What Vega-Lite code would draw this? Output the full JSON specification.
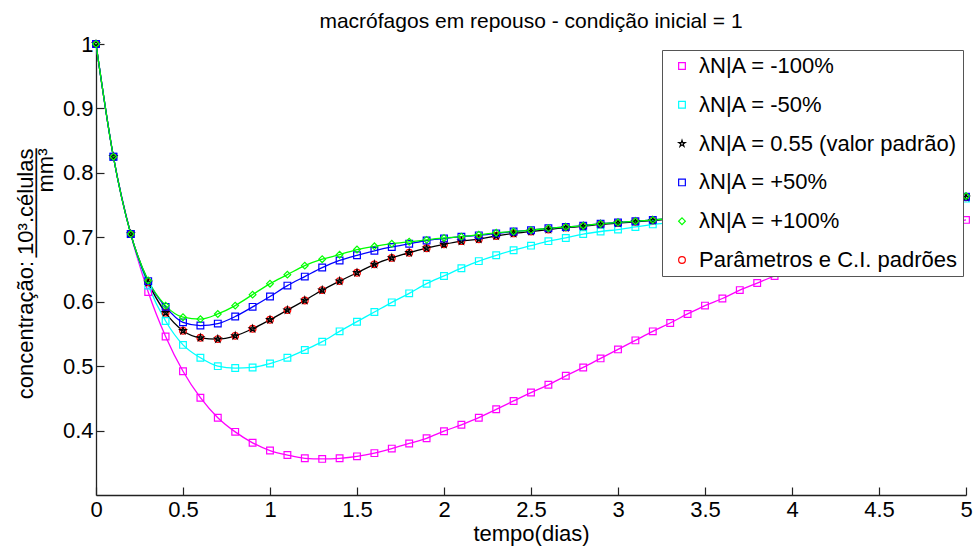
{
  "$schema": "https://vega.github.io/schema/vega-lite/v6.json",
  "width": 870,
  "height": 451,
  "autosize": {"type": "none"},
  "padding": {"left": 96, "top": 44, "right": 10, "bottom": 53},
  "background": "white",
  "config": {
    "view": {"stroke": null},
    "font": "Liberation Sans",
    "axis": {"grid": false, "domainColor": "#222", "domainWidth": 1.3, "tickColor": "#222", "tickWidth": 1.2, "labelColor": "black", "titleColor": "black", "labelFont": "Liberation Sans", "titleFont": "Liberation Sans", "labelFontSize": 22, "titleFontSize": 22, "titleFontWeight": "normal"}
  },
  "title": {"text": "macrófagos em repouso - condição inicial = 1", "font": "Liberation Sans", "fontSize": 21, "fontWeight": "normal", "color": "black", "anchor": "middle", "offset": 1},
  "data": {"values": [
    {"tempo": 0.0, "m": 1.0, "c": 1.0, "k": 1.0, "b": 1.0, "g": 1.0, "r": 1.0},
    {"tempo": 0.1, "m": 0.825, "c": 0.825, "k": 0.825, "b": 0.825, "g": 0.825, "r": 0.825},
    {"tempo": 0.2, "m": 0.705, "c": 0.705, "k": 0.705, "b": 0.705, "g": 0.705, "r": 0.705},
    {"tempo": 0.3, "m": 0.615, "c": 0.625, "k": 0.630, "b": 0.632, "g": 0.633, "r": 0.630},
    {"tempo": 0.4, "m": 0.546, "c": 0.570, "k": 0.583, "b": 0.592, "g": 0.594, "r": 0.583},
    {"tempo": 0.5, "m": 0.492, "c": 0.533, "k": 0.555, "b": 0.568, "g": 0.576, "r": 0.555},
    {"tempo": 0.6, "m": 0.451, "c": 0.513, "k": 0.544, "b": 0.563, "g": 0.573, "r": 0.544},
    {"tempo": 0.7, "m": 0.420, "c": 0.500, "k": 0.542, "b": 0.566, "g": 0.581, "r": 0.542},
    {"tempo": 0.8, "m": 0.398, "c": 0.497, "k": 0.547, "b": 0.577, "g": 0.594, "r": 0.547},
    {"tempo": 0.9, "m": 0.381, "c": 0.498, "k": 0.558, "b": 0.592, "g": 0.611, "r": 0.558},
    {"tempo": 1.0, "m": 0.369, "c": 0.504, "k": 0.572, "b": 0.608, "g": 0.628, "r": 0.572},
    {"tempo": 1.1, "m": 0.362, "c": 0.513, "k": 0.587, "b": 0.625, "g": 0.642, "r": 0.587},
    {"tempo": 1.2, "m": 0.357, "c": 0.525, "k": 0.602, "b": 0.639, "g": 0.656, "r": 0.602},
    {"tempo": 1.3, "m": 0.356, "c": 0.538, "k": 0.618, "b": 0.653, "g": 0.666, "r": 0.618},
    {"tempo": 1.4, "m": 0.357, "c": 0.554, "k": 0.632, "b": 0.664, "g": 0.673, "r": 0.632},
    {"tempo": 1.5, "m": 0.360, "c": 0.569, "k": 0.645, "b": 0.672, "g": 0.681, "r": 0.645},
    {"tempo": 1.6, "m": 0.365, "c": 0.584, "k": 0.658, "b": 0.679, "g": 0.686, "r": 0.658},
    {"tempo": 1.7, "m": 0.372, "c": 0.599, "k": 0.668, "b": 0.685, "g": 0.690, "r": 0.668},
    {"tempo": 1.8, "m": 0.380, "c": 0.613, "k": 0.676, "b": 0.690, "g": 0.693, "r": 0.676},
    {"tempo": 1.9, "m": 0.388, "c": 0.628, "k": 0.683, "b": 0.695, "g": 0.696, "r": 0.683},
    {"tempo": 2.0, "m": 0.399, "c": 0.640, "k": 0.689, "b": 0.698, "g": 0.699, "r": 0.689},
    {"tempo": 2.1, "m": 0.409, "c": 0.652, "k": 0.694, "b": 0.701, "g": 0.701, "r": 0.694},
    {"tempo": 2.2, "m": 0.420, "c": 0.663, "k": 0.697, "b": 0.703, "g": 0.704, "r": 0.697},
    {"tempo": 2.3, "m": 0.433, "c": 0.672, "k": 0.702, "b": 0.706, "g": 0.707, "r": 0.702},
    {"tempo": 2.4, "m": 0.446, "c": 0.680, "k": 0.706, "b": 0.709, "g": 0.709, "r": 0.706},
    {"tempo": 2.5, "m": 0.459, "c": 0.687, "k": 0.709, "b": 0.711, "g": 0.711, "r": 0.709},
    {"tempo": 2.6, "m": 0.471, "c": 0.694, "k": 0.712, "b": 0.714, "g": 0.714, "r": 0.712},
    {"tempo": 2.7, "m": 0.485, "c": 0.699, "k": 0.715, "b": 0.716, "g": 0.716, "r": 0.715},
    {"tempo": 2.8, "m": 0.498, "c": 0.705, "k": 0.717, "b": 0.718, "g": 0.718, "r": 0.717},
    {"tempo": 2.9, "m": 0.512, "c": 0.709, "k": 0.720, "b": 0.721, "g": 0.721, "r": 0.720},
    {"tempo": 3.0, "m": 0.526, "c": 0.712, "k": 0.722, "b": 0.723, "g": 0.723, "r": 0.722},
    {"tempo": 3.1, "m": 0.540, "c": 0.716, "k": 0.724, "b": 0.725, "g": 0.725, "r": 0.724},
    {"tempo": 3.2, "m": 0.554, "c": 0.720, "k": 0.726, "b": 0.727, "g": 0.727, "r": 0.726},
    {"tempo": 3.3, "m": 0.567, "c": 0.723, "k": 0.728, "b": 0.729, "g": 0.729, "r": 0.728},
    {"tempo": 3.4, "m": 0.581, "c": 0.726, "k": 0.730, "b": 0.731, "g": 0.731, "r": 0.730},
    {"tempo": 3.5, "m": 0.594, "c": 0.729, "k": 0.732, "b": 0.733, "g": 0.733, "r": 0.732},
    {"tempo": 3.6, "m": 0.605, "c": 0.731, "k": 0.734, "b": 0.735, "g": 0.735, "r": 0.734},
    {"tempo": 3.7, "m": 0.618, "c": 0.734, "k": 0.736, "b": 0.737, "g": 0.737, "r": 0.736},
    {"tempo": 3.8, "m": 0.629, "c": 0.736, "k": 0.738, "b": 0.739, "g": 0.739, "r": 0.738},
    {"tempo": 3.9, "m": 0.640, "c": 0.738, "k": 0.740, "b": 0.741, "g": 0.741, "r": 0.740},
    {"tempo": 4.0, "m": 0.651, "c": 0.740, "k": 0.742, "b": 0.743, "g": 0.743, "r": 0.742},
    {"tempo": 4.1, "m": 0.661, "c": 0.742, "k": 0.744, "b": 0.745, "g": 0.745, "r": 0.744},
    {"tempo": 4.2, "m": 0.670, "c": 0.744, "k": 0.746, "b": 0.747, "g": 0.747, "r": 0.746},
    {"tempo": 4.3, "m": 0.679, "c": 0.746, "k": 0.748, "b": 0.749, "g": 0.749, "r": 0.748},
    {"tempo": 4.4, "m": 0.687, "c": 0.748, "k": 0.750, "b": 0.751, "g": 0.751, "r": 0.750},
    {"tempo": 4.5, "m": 0.695, "c": 0.750, "k": 0.752, "b": 0.753, "g": 0.753, "r": 0.752},
    {"tempo": 4.6, "m": 0.702, "c": 0.752, "k": 0.754, "b": 0.755, "g": 0.755, "r": 0.754},
    {"tempo": 4.7, "m": 0.709, "c": 0.754, "k": 0.756, "b": 0.757, "g": 0.757, "r": 0.756},
    {"tempo": 4.8, "m": 0.715, "c": 0.756, "k": 0.758, "b": 0.759, "g": 0.759, "r": 0.758},
    {"tempo": 4.9, "m": 0.721, "c": 0.758, "k": 0.760, "b": 0.761, "g": 0.761, "r": 0.760},
    {"tempo": 5.0, "m": 0.727, "c": 0.760, "k": 0.762, "b": 0.763, "g": 0.764, "r": 0.762}
  ]},
  "transform": [{"fold": ["m", "c", "r", "k", "b", "g"], "as": ["serie", "valor"]}],
  "encoding": {
    "x": {"field": "tempo", "type": "quantitative", "scale": {"domain": [0, 5], "nice": false},
      "axis": {"values": [0, 0.5, 1, 1.5, 2, 2.5, 3, 3.5, 4, 4.5, 5], "format": "~g", "tickSize": -8, "labelPadding": 12, "labelFlush": false, "labelOverlap": false, "title": "tempo(dias)", "titlePadding": 3}},
    "y": {"field": "valor", "type": "quantitative", "scale": {"domain": [0.3, 1], "nice": false, "zero": false},
      "axis": {"values": [0.4, 0.5, 0.6, 0.7, 0.8, 0.9, 1], "format": "~g", "tickSize": -8, "labelPadding": 11, "labelFlush": false, "labelOverlap": false,
        "title": ["concentração:\u00a010³.células", "\u00a0", "───────", "mm³\u00a0\u00a0"],
        "titleAngle": -90, "titleAlign": "right", "titleBaseline": "top", "titleLineHeight": 10, "titleX": -81, "titleY": 104}}
  },
  "layer": [
    {
      "transform": [{"filter": "datum.serie !== 'r'"}],
      "mark": {"type": "line", "interpolate": "monotone", "strokeWidth": 1.3},
      "encoding": {
        "stroke": {"field": "serie", "type": "nominal", "scale": {"domain": ["m", "c", "k", "b", "g"], "range": ["#ff00ff", "#00ffff", "#000000", "#0000ff", "#00ff00"]}, "legend": null}
      }
    },
    {
      "mark": {"type": "point", "filled": false, "opacity": 1},
      "encoding": {
        "color": {"field": "serie", "type": "nominal", "scale": {"domain": ["m", "c", "k", "b", "g", "r"], "range": ["#ff00ff", "#00ffff", "#000000", "#0000ff", "#00ff00", "#ff0000"]},
          "legend": {"title": null, "orient": "none", "legendX": 566, "legendY": 6, "fillColor": "white", "strokeColor": "#555", "padding": 5, "rowPadding": 16.8, "labelFontSize": 22, "labelFont": "Liberation Sans", "labelColor": "black", "symbolSize": 25, "symbolStrokeWidth": 1.3, "labelOffset": 6, "symbolOffset": 4, "labelLimit": 400,
            "labelExpr": "{'m': 'λN|A = -100%', 'c': 'λN|A = -50%', 'k': 'λN|A = 0.55 (valor padrão)', 'b': 'λN|A = +50%', 'g': 'λN|A = +100%', 'r': 'Parâmetros e C.I. padrões'}[datum.label]"}},
        "shape": {"field": "serie", "type": "nominal", "scale": {"domain": ["m", "c", "k", "b", "g", "r"], "range": ["square", "square", "M0,-1L0.223,-0.307L0.951,-0.309L0.361,0.117L0.588,0.809L0,0.38L-0.588,0.809L-0.361,0.117L-0.951,-0.309L-0.223,-0.307Z", "square", "diamond", "circle"]},
          "legend": {"title": null, "orient": "none", "legendX": 566, "legendY": 6, "fillColor": "white", "strokeColor": "#555", "padding": 5, "rowPadding": 16.8, "labelFontSize": 22, "labelFont": "Liberation Sans", "labelColor": "black", "symbolSize": 25, "symbolStrokeWidth": 1.3, "labelOffset": 6, "symbolOffset": 4, "labelLimit": 400,
            "labelExpr": "{'m': 'λN|A = -100%', 'c': 'λN|A = -50%', 'k': 'λN|A = 0.55 (valor padrão)', 'b': 'λN|A = +50%', 'g': 'λN|A = +100%', 'r': 'Parâmetros e C.I. padrões'}[datum.label]"}},
        "size": {"field": "serie", "type": "nominal", "scale": {"domain": ["m", "c", "k", "b", "g", "r"], "range": [45, 45, 40, 45, 40, 20]}, "legend": null},
        "strokeWidth": {"field": "serie", "type": "nominal", "scale": {"domain": ["m", "c", "k", "b", "g", "r"], "range": [1.2, 1.2, 1.4, 1.2, 1.2, 2.6]}, "legend": null}
      }
    }
  ]
}
